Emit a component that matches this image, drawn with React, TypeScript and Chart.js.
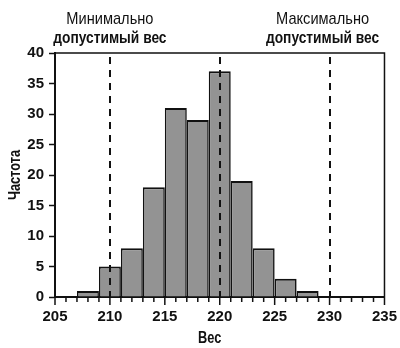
import React, { useEffect, useRef } from "react";
import { Chart, registerables } from "chart.js";

Chart.register(...registerables);

// Bin centres (2-unit bins from 207 to 229) and frequencies
const binCenters = [208, 210, 212, 214, 216, 218, 220, 222, 224, 226, 228];
const frequencies = [1, 5, 8, 18, 31, 29, 37, 19, 8, 3, 1];

// Reference lines (min allowed, mean, max allowed)
const limitValues = [210, 220, 230];
const limitLabelsTop = ["Минимально", "", "Максимально"];
const limitLabelsBottom = ["допустимый вес", "", "допустимый вес"];
const limitLabelShift = [0, 0, -7];

const xMin = 205;
const xMax = 235;
const yMin = 0;
const yMax = 40;
const xTitle = "Вес";
const yTitle = "Частота";

const FONT = "'Liberation Sans', Arial, sans-serif";

function narrowText(ctx: any, text: string, x: number, y: number, sx: number) {
  ctx.save();
  ctx.translate(x, y);
  ctx.scale(sx, 1);
  ctx.fillText(text, 0, 0);
  ctx.restore();
}

const decorPlugin = {
  id: "decor",
  afterDatasetsDraw(chart: any) {
    const { ctx, chartArea, scales } = chart;
    const xs = scales.x;
    ctx.save();
    // dashed reference lines
    ctx.strokeStyle = "#111";
    ctx.lineWidth = 2;
    ctx.setLineDash([7, 6]);
    limitValues.forEach((v) => {
      const px = Math.round(xs.getPixelForValue(v));
      ctx.beginPath();
      ctx.moveTo(px, chartArea.top + 4);
      ctx.lineTo(px, chartArea.bottom);
      ctx.stroke();
    });
    ctx.setLineDash([]);
    // top/right frame
    ctx.lineWidth = 1.5;
    ctx.beginPath();
    ctx.moveTo(chartArea.left, chartArea.top);
    ctx.lineTo(chartArea.right, chartArea.top);
    ctx.lineTo(chartArea.right, chartArea.bottom);
    ctx.stroke();
    // x tick marks (minor every 1, major every 5)
    for (let v = xMin; v <= xMax; v++) {
      const px = xs.getPixelForValue(v);
      const len = v % 5 === 0 ? 8 : 5;
      ctx.beginPath();
      ctx.moveTo(px, chartArea.bottom);
      ctx.lineTo(px, chartArea.bottom + len);
      ctx.stroke();
    }
    ctx.restore();
  },
  afterDraw(chart: any) {
    const { ctx, chartArea, scales } = chart;
    const xs = scales.x;
    ctx.save();
    ctx.fillStyle = "#111";
    ctx.textAlign = "center";
    ctx.textBaseline = "alphabetic";
    limitValues.forEach((v, i) => {
      const px = xs.getPixelForValue(v) + limitLabelShift[i];
      if (limitLabelsTop[i]) {
        ctx.font = `17px ${FONT}`;
        narrowText(ctx, limitLabelsTop[i], px, 24, 0.86);
      }
      if (limitLabelsBottom[i]) {
        ctx.font = `bold 16px ${FONT}`;
        narrowText(ctx, limitLabelsBottom[i], px, 43, 0.86);
      }
    });
    // axis titles
    ctx.font = `bold 16px ${FONT}`;
    narrowText(ctx, xTitle, (chartArea.left + chartArea.right) / 2 - 10, 343, 0.8);
    ctx.translate(16, (chartArea.top + chartArea.bottom) / 2);
    ctx.rotate(-Math.PI / 2);
    ctx.textBaseline = "middle";
    narrowText(ctx, yTitle, 0, 0, 0.8);
    ctx.restore();
  },
};

export default function App() {
  const ref = useRef<HTMLCanvasElement | null>(null);
  useEffect(() => {
    if (!ref.current) return;
    const chart = new Chart(ref.current, {
      type: "bar",
      data: {
        datasets: [
          {
            data: binCenters.map((c, i) => ({ x: c, y: frequencies[i] })),
            backgroundColor: "#939393",
            borderColor: "#111",
            borderWidth: { top: 2, left: 1.6, right: 1.6, bottom: 0 } as any,
            borderSkipped: false as any,
            barPercentage: 2,
            categoryPercentage: 1,
          },
        ],
      },
      options: {
        animation: false,
        responsive: false,
        events: [],
        layout: { padding: { top: 53, right: 15, bottom: 0, left: 0 } },
        plugins: { legend: { display: false }, tooltip: { enabled: false } },
        scales: {
          x: {
            type: "linear",
            min: xMin,
            max: xMax,
            offset: false,
            afterFit: (s: any) => {
              s.height = 51;
            },
            grid: {
              display: true,
              drawOnChartArea: false,
              drawTicks: true,
              tickLength: 8,
              tickColor: "rgba(0,0,0,0)",
            },
            border: { display: true, color: "#111", width: 2 },
            ticks: {
              stepSize: 1,
              autoSkip: false,
              maxRotation: 0,
              padding: 3,
              color: "#111",
              font: { family: FONT, size: 15, weight: "bold" },
              callback: (v: any) => (Number(v) % 5 === 0 ? String(v) : ""),
            },
          },
          y: {
            min: yMin,
            max: yMax,
            afterFit: (s: any) => {
              s.width = 55;
            },
            grid: {
              display: true,
              drawOnChartArea: false,
              drawTicks: true,
              tickLength: 6,
              tickColor: "#111",
              tickWidth: 1.5,
            },
            border: { display: true, color: "#111", width: 2 },
            ticks: {
              stepSize: 5,
              padding: 5,
              color: "#111",
              font: { family: FONT, size: 15, weight: "bold" },
            },
          },
        },
      },
      plugins: [decorPlugin],
    });
    return () => chart.destroy();
  }, []);
  return (
    <div style={{ position: "absolute", left: 0, top: 0, width: 400, height: 348, background: "#fff" }}>
      <canvas ref={ref} width={400} height={348} />
    </div>
  );
}
